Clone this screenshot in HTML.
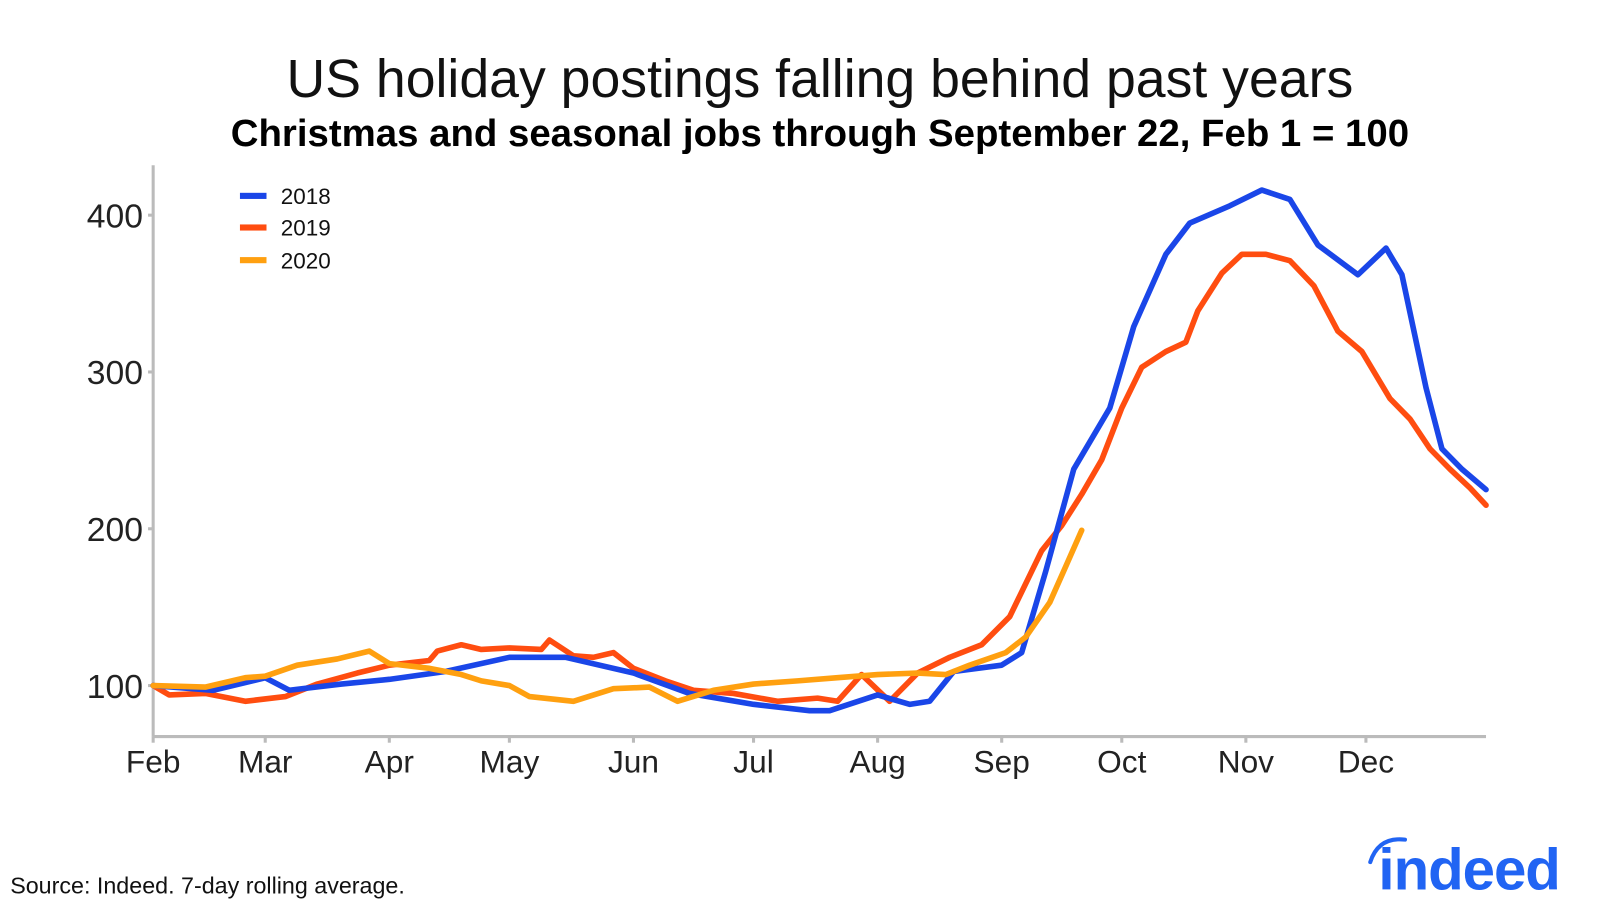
<!DOCTYPE html>
<html><head><meta charset="utf-8"><style>
html,body{margin:0;padding:0;background:#fff;}
svg{display:block;font-family:"Liberation Sans",sans-serif;}
</style></head><body>
<svg id="chart" width="1600" height="909" viewBox="0 0 1567 891" preserveAspectRatio="none" xmlns="http://www.w3.org/2000/svg">
<text x="803" y="95" text-anchor="middle" font-size="52.5" fill="#111">US holiday postings falling behind past years</text>
<text x="803" y="143" text-anchor="middle" font-size="37.6" font-weight="bold" fill="#000">Christmas and seasonal jobs through September 22, Feb 1 = 100</text>
<g id="axes"></g>
<g id="series"></g>
<g>
<rect x="235" y="189" width="26" height="6" fill="#1a46e8"/>
<text x="275" y="200" font-size="22" fill="#111">2018</text>
<rect x="235" y="220" width="26" height="6" fill="#ff4d10"/>
<text x="275" y="231" font-size="22" fill="#111">2019</text>
<rect x="235" y="252" width="26" height="6" fill="#ffa010"/>
<text x="275" y="263" font-size="22" fill="#111">2020</text>
</g>
<text x="10" y="876" font-size="22.8" fill="#111">Source: Indeed. 7-day rolling average.</text>
<g>
<path d="M1342 845 Q1350 820 1376 823" stroke="#2164f3" stroke-width="4" fill="none" stroke-linecap="round"/>
<text x="1350" y="872" font-size="57" font-weight="bold" fill="#2164f3" letter-spacing="-1">indeed</text>
</g>
</svg>
<script>
const monthLabels=["Feb","Mar","Apr","May","Jun","Jul","Aug","Sep","Oct","Nov","Dec"];
const monthDays=[0,28,59,89,120,150,181,212,242,273,303];
const yTicks=[100,200,300,400];
const days2018=[0,15,28,34,47,59,73,89,103,120,134,150,164,169,181,189,194,200,212,217,223,230,239,245,253,259,269,277,284,291,301,308,312,318,322,327,333];
const vals2018=[100,97,105,97,101,104,109,118,118,108,95,88,84,84,94,88,90,109,113,121,173,238,277,329,375,395,406,416,410,381,362,379,362,290,251,238,225];
const days2019=[0,4,13,23,33,41,51,59,69,71,77,82,89,97,99,105,110,115,120,128,135,145,156,166,171,177,184,191,199,207,214,222,227,232,237,242,247,253,258,261,267,272,278,284,290,296,302,309,314,319,324,329,333];
const vals2019=[100,94,95,90,93,101,108,113,116,122,126,123,124,123,129,119,118,121,111,103,97,95,90,92,90,107,90,108,118,126,144,186,202,222,244,277,303,313,319,339,363,375,375,371,355,326,313,283,270,251,238,226,215];
const days2020=[0,13,23,28,36,46,54,59,69,77,82,89,94,105,115,124,131,140,150,161,171,181,191,198,204,213,218,224,228,232];
const vals2020=[100,99,105,106,113,117,122,114,111,107,103,100,93,90,98,99,90,97,101,103,105,107,108,107,113,121,131,153,176,199];
const X0=150,PX_DAY=3.92,Y100=672,PX_UNIT=1.537;
const xs=d=>X0+d*PX_DAY, ys=v=>Y100-(v-100)*PX_UNIT;
const NS="http://www.w3.org/2000/svg";
const axes=document.getElementById('axes'), ser=document.getElementById('series');
function mk(tag,attrs,parent){const e=document.createElementNS(NS,tag);for(const k in attrs)e.setAttribute(k,attrs[k]);parent.appendChild(e);return e;}
let yl=mk('line',{x1:X0,y1:162,x2:X0,y2:722,stroke:'#bbb','stroke-width':3},axes);


let xl=mk('line',{x1:X0,y1:722,x2:xs(333),y2:722,stroke:'#bbb','stroke-width':3},axes);


yTicks.forEach(v=>{
 const t=mk('line',{x1:X0-5,x2:X0,y1:ys(v),y2:ys(v),stroke:'#bbb','stroke-width':3},axes);
 
 
 const l=mk('text',{x:X0-10,y:ys(v)+12,'text-anchor':'end','font-size':33,fill:'#222'},axes);
 l.textContent=v;
 
 
});
monthLabels.forEach((m,i)=>{
 const x=xs(monthDays[i]);
 const t=mk('line',{x1:x,x2:x,y1:722,y2:728,stroke:'#bbb','stroke-width':3},axes);
 
 
 const l=mk('text',{x:x,y:757,'text-anchor':'middle','font-size':31,fill:'#222'},axes);
 l.textContent=m;
 
 
});
function line(days,vals,color,name){
 const d=days.map((dd,i)=>(i?'L':'M')+xs(dd).toFixed(1)+' '+ys(vals[i]).toFixed(1)).join(' ');
 const p=mk('path',{d:d,stroke:color,'stroke-width':5.5,fill:'none','stroke-linejoin':'round','stroke-linecap':'round'},ser);
 
 
}
line(days2020,vals2020,'#ffa010','line-2020');
line(days2019,vals2019,'#ff4d10','line-2019');
line(days2018,vals2018,'#1a46e8','line-2018');
ser.appendChild(ser.firstChild);
</script>
</body></html>
